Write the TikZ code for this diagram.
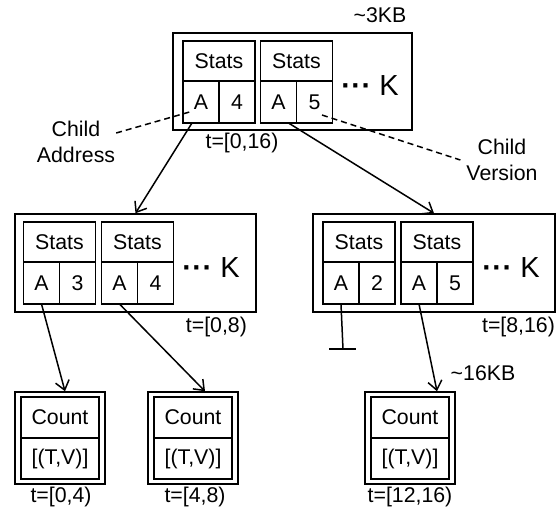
\documentclass[tikz,border=0pt]{standalone}
\usepackage{fontspec}
\setmainfont{Liberation Sans}
\usetikzlibrary{arrows.meta,positioning}

% one stats column: name, position of the header, child version
\newcommand{\statscol}[3]{%
  \node [head] (#1) at (#2) {Stats};
  \node [cell, below right=0pt of #1.south west] (#1-a) {A};
  \node [cell, right=0pt of #1-a] (#1-n) {#3};
}
% one leaf: name, centre
\newcommand{\leafbox}[2]{%
  \node [leafframe] (#1) at (#2) {};
  \node [leafrow, above=0pt of #1.center] (#1-h) {Count};
  \node [leafrow, below=0pt of #1.center] (#1-v) {[(T,V)]};
}
\newcommand{\moreK}{%
  {\bfseries\textperiodcentered\kern0.5pt\textperiodcentered\kern0.5pt\textperiodcentered}\ K}

\begin{document}
\begin{tikzpicture}[
    x=1pt, y=-1pt,
    line width=1.5pt,
    font=\fontsize{21.3}{25.5}\selectfont,
    frame/.style={draw, minimum height=98pt},
    head/.style={draw, minimum width=72pt, minimum height=40pt, inner sep=0pt, outer sep=0pt},
    cell/.style={draw, minimum width=36pt, minimum height=42pt, inner sep=0pt, outer sep=0pt},
    leafframe/.style={draw, minimum width=90pt, minimum height=92pt},
    leafrow/.style={draw, minimum width=78pt, minimum height=41pt, inner sep=0pt, outer sep=0pt},
    more/.style={font=\fontsize{29}{32}\selectfont, inner sep=0pt},
    link/.style={-{Straight Barb[length=9pt,width=14pt]}},
    note/.style={dash pattern=on 6pt off 4pt},
  ]
    \useasboundingbox (0,0) rectangle (558,509);

    % root
    \node [frame, minimum width=239pt, minimum height=97pt] (top) at (292.5,81.5) {};
    \statscol{ta}{219,61}{4}
    \statscol{tb}{296.5,61}{5}
    \node [more] (tk) at (370,86) {\moreK};
    \node (tsize) at (380,15) {\textasciitilde3KB};
    \node (trange) at (242,143) {t=[0,16)};

    % inner nodes
    \node [frame, minimum width=241pt] (ml) at (135.5,263) {};
    \statscol{la}{59.5,242}{3}
    \statscol{lb}{137.5,242}{4}
    \node [more] (lk) at (211,268) {\moreK};
    \node [anchor=east] (lrange) at (251,327) {t=[0,8)};

    \node [frame, minimum width=242pt] (mr) at (434,263) {};
    \statscol{ra}{359,242}{2}
    \statscol{rb}{437,242}{5}
    \node [more] (rk) at (511,268) {\moreK};
    \node [anchor=east] (rrange) at (559,327) {t=[8,16)};

    % leaves
    \leafbox{l1}{60,438}
    \leafbox{l2}{193,438}
    \leafbox{l3}{410,438}
    \node (l1range) at (61,497) {t=[0,4)};
    \node (l2range) at (195,497) {t=[4,8)};
    \node (l3range) at (410,497) {t=[12,16)};
    \node (lsize) at (483,373) {\textasciitilde16KB};

    % notes
    \node [align=center] (addr) at (76,142) {Child\\Address};
    \node [align=center] (ver) at (502,160) {Child\\Version};
    \coordinate (addrend) at (193,111);
    \coordinate (verstart) at (322,115);
    \coordinate (ground) at (343,349);

    \draw [note] ([xshift=-3pt,yshift=9pt]addr.east) -- (addrend);
    \draw [note] (verstart) -- ([xshift=-2pt]ver.west);

    \draw [link] ([xshift=-9pt]ta-a.south) -- (ml.north);
    \draw [link] ([xshift=10pt]tb-a.south) -- (mr.north);
    \draw [link] (la-a.south) -- ([xshift=5pt]l1.north);
    \draw [link] (lb-a.south) -- ([xshift=12pt]l2.north);
    \draw [link] (rb-a.south) -- ([xshift=27pt]l3.north);
    \draw (ra-a.south) -- (ground);
    \draw ([xshift=-14pt]ground) -- ([xshift=13pt]ground);
\end{tikzpicture}
\end{document}
